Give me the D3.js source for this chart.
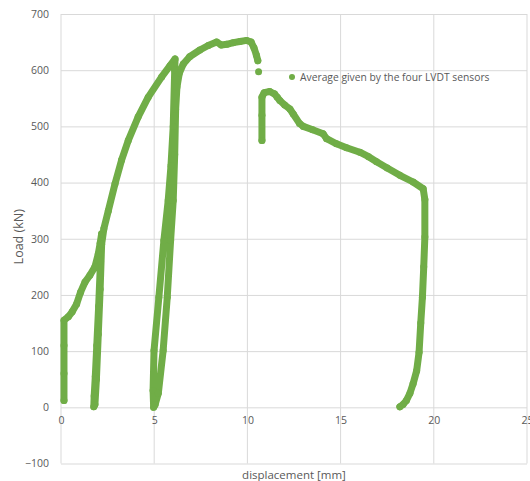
<!DOCTYPE html>
<html>
<head>
<meta charset="UTF-8">
<script src="https://d3js.org/d3.v7.min.js"></script>
<style>
  body { margin: 0; background: #fff; }
  svg { display: block; font-family: "Open Sans", sans-serif; }
</style>
</head>
<body>
<svg width="530" height="481"></svg>
<script>
// main loading branch, with two unload/reload loops, up to the first drop
const dispMain = [0.16, 0.16, 0.16, 0.16, 0.39, 0.6, 0.84, 1.05, 1.29, 1.55, 1.82, 2.0, 2.1, 2.18,
  2.12, 2.02, 1.92, 1.84, 1.78, 1.76,
  1.82, 1.9, 2.0, 2.1, 2.18, 2.3, 2.54, 2.9, 3.25, 3.61, 4.14, 4.68, 5.4, 5.85, 6.12,
  6.1, 6.02, 5.9, 5.75, 5.52, 5.25, 4.99, 4.94, 4.97,
  5.05, 5.22, 5.48, 5.7, 5.88, 6.02, 6.1, 6.15, 6.22, 6.35, 6.56, 6.9, 7.45, 7.9, 8.35, 8.6, 8.9,
  9.24, 9.6, 9.96, 10.2, 10.35, 10.48, 10.56];
const loadMain = [12, 60, 110, 155, 161, 170, 184, 205, 223, 235, 250, 273, 292, 309,
  260, 180, 110, 55, 20, 1,
  5, 50, 130, 210, 290, 318, 350, 398, 440, 475, 517, 552, 588, 608, 620,
  600, 500, 430, 368, 297, 196, 101, 30, 0,
  5, 25, 101, 196, 297, 368, 450, 530, 570, 595, 611, 624, 636, 644, 650, 645, 646,
  649, 651, 653, 650, 640, 627, 617];

// single reading after the drop
const dispDrop = [10.6];
const loadDrop = [597];

// post-peak branch and final unloading
const dispPost = [10.78, 10.78, 10.78, 10.9, 11.2, 11.45, 11.6, 11.74, 12.0, 12.28, 12.46, 12.8, 13.0, 13.5, 14.06,
  14.25, 14.78, 15.32, 16.03, 16.5, 16.93, 17.5, 18.18, 18.89, 19.43, 19.52, 19.52, 19.46, 19.39,
  19.3, 19.21, 19.08, 18.89, 18.72, 18.53, 18.35, 18.18];
const loadPost = [475, 520, 552, 560, 562, 558, 552, 546, 538, 531, 522, 505, 500, 494, 487,
  478, 469, 462, 454, 446, 437, 426, 413, 401, 389, 370, 303, 250, 196,
  150, 98, 65, 42, 25, 12, 5, 1];

const xTicks = [0, 5, 10, 15, 20, 25];
const yTicks = [-100, 0, 100, 200, 300, 400, 500, 600, 700];
const seriesName = "Average given by the four LVDT sensors";

const svg = d3.select("svg");
const mLeft = 61, mRight = 527, mTop = 14, mBottom = 463.5;
const green = "#70ad47";

const x = d3.scaleLinear().domain([0, 25]).range([mLeft, mRight]);
const y = d3.scaleLinear().domain([-100, 700]).range([mBottom, mTop]);

// horizontal grid + y labels
const yAxis = svg.append("g")
  .attr("transform", `translate(${mLeft},0)`)
  .call(d3.axisLeft(y).tickValues(yTicks).tickSize(-(mRight - mLeft)).tickPadding(12));
yAxis.select(".domain").remove();
yAxis.selectAll("line").attr("stroke", "#d9d9d9");
yAxis.selectAll("text").attr("fill", "#595959").attr("font-size", 10.5)
  .attr("font-family", "'Open Sans', sans-serif");

// vertical grid
svg.append("g").selectAll("line")
  .data(xTicks)
  .join("line")
  .attr("x1", d => x(d)).attr("x2", d => x(d))
  .attr("y1", mTop).attr("y2", mBottom)
  .attr("stroke", "#d9d9d9");

// x labels sit under the zero line
const xAxis = svg.append("g")
  .attr("transform", `translate(0,${y(0)})`)
  .call(d3.axisBottom(x).tickValues(xTicks).tickSize(0).tickPadding(9));
xAxis.select(".domain").remove();
xAxis.selectAll("text").attr("fill", "#595959").attr("font-size", 10.5)
  .attr("font-family", "'Open Sans', sans-serif");

// axis titles
svg.append("text")
  .attr("x", (mLeft + mRight) / 2).attr("y", 479)
  .attr("text-anchor", "middle")
  .attr("fill", "#595959").attr("font-size", 11.5)
  .text("displacement [mm]");

svg.append("text")
  .attr("transform", `translate(23,${(mTop + mBottom) / 2 - 2}) rotate(-90)`)
  .attr("text-anchor", "middle")
  .attr("fill", "#595959").attr("font-size", 12.5)
  .text("Load  (kN)");

// series
const line = d3.line().x(d => x(d[0])).y(d => y(d[1]));
const segments = [
  d3.zip(dispMain, loadMain),
  d3.zip(dispDrop, loadDrop),
  d3.zip(dispPost, loadPost)
];
const plot = svg.append("g");
segments.forEach(seg => {
  if (seg.length > 1) {
    plot.append("path")
      .attr("d", line(seg))
      .attr("fill", "none")
      .attr("stroke", green)
      .attr("stroke-width", 7)
      .attr("stroke-linejoin", "round")
      .attr("stroke-linecap", "round");
  }
  plot.selectAll(null)
    .data(seg)
    .join("circle")
    .attr("cx", d => x(d[0])).attr("cy", d => y(d[1]))
    .attr("r", 3.5)
    .attr("fill", green);
});

// legend
const legend = svg.append("g").attr("transform", "translate(292,77)");
legend.append("circle").attr("r", 3).attr("fill", green);
legend.append("text")
  .attr("x", 8).attr("dy", "0.35em")
  .attr("fill", "#595959").attr("font-size", 10.3)
  .text(seriesName);
</script>
</body>
</html>
